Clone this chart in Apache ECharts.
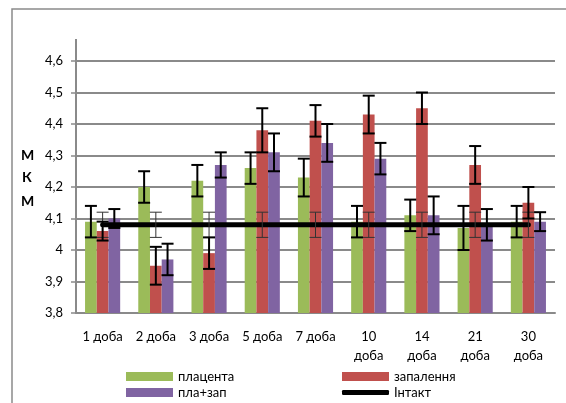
<!DOCTYPE html>
<html>
<head>
<meta charset="utf-8">
<script src="https://cdn.jsdelivr.net/npm/echarts@6/dist/echarts.min.js"></script>
<style>html,body{margin:0;padding:0;background:#fff}#c{width:566px;height:403px}</style>
</head>
<body>
<div id="c"></div>
<script>
const categories = ['1 доба','2 доба','3 доба','5 доба','7 доба','10 доба','14 доба','21 доба','30 доба'];
const placenta = [4.09,4.20,4.22,4.26,4.23,4.09,4.11,4.07,4.09];
const placentaErr = [0.05,0.05,0.05,0.05,0.06,0.05,0.05,0.07,0.05];
const inflammation = [4.06,3.95,3.99,4.38,4.41,4.43,4.45,4.27,4.15];
const inflammationErr = [0.03,0.06,0.05,0.07,0.05,0.06,0.05,0.06,0.05];
const plaZap = [4.10,3.97,4.27,4.31,4.34,4.29,4.11,4.08,4.09];
const plaZapErr = [0.03,0.05,0.04,0.06,0.06,0.05,0.06,0.05,0.03];
const intact = [4.08,4.08,4.08,4.08,4.08,4.08,4.08,4.08,4.08];
const intactErr = [0.04,0.04,0.04,0.04,0.04,0.04,0.04,0.04,0.04];
const yTicks = [3.8,3.9,4.0,4.1,4.2,4.3,4.4,4.5,4.6];

const FONT = 'Lato';
const BAR_RATIO = 0.22;
const chart = echarts.init(document.getElementById('c'), null, {renderer:'canvas'});

function errRender(offsetIdx, width, color, cap) {
  return function(params, api) {
    const i = api.value(0), v = api.value(1), e = api.value(2);
    const band = api.size([1, 0])[0];
    const x = api.coord([i, v])[0] + offsetIdx * band * BAR_RATIO;
    const yt = api.coord([i, v + e])[1];
    const yb = api.coord([i, v - e])[1];
    const st = {stroke: color, lineWidth: width};
    return {type:'group', children:[
      {type:'line', shape:{x1:x,y1:yt,x2:x,y2:yb}, style:st},
      {type:'line', shape:{x1:x-cap,y1:yt,x2:x+cap,y2:yt}, style:st},
      {type:'line', shape:{x1:x-cap,y1:yb,x2:x+cap,y2:yb}, style:st}
    ]};
  };
}
function errData(vals, errs){ return vals.map((v,i)=>[i, v, errs[i]]); }

const legendBase = {padding:0, itemGap:0, textStyle:{fontFamily:FONT, fontSize:13, color:'#000'}, itemWidth:47, itemHeight:9, icon:'rect'};

chart.setOption({
  animation:false,
  textStyle:{fontFamily:FONT},
  grid:{left:76, right:11, top:61, bottom:90},
  legend:[
    Object.assign({}, legendBase, {data:['плацента'], left:126, top:370}),
    Object.assign({}, legendBase, {data:['запалення'], left:342, top:370}),
    Object.assign({}, legendBase, {data:['пла+зап'], left:126, top:386}),
    Object.assign({}, legendBase, {data:['Інтакт'], left:342, top:386, itemHeight:5, icon:'roundRect'})
  ],
  xAxis:{
    type:'category', data:categories,
    axisLine:{lineStyle:{color:'#8a8a8a', width:2}},
    axisTick:{length:4, lineStyle:{color:'#8a8a8a', width:1.5}},
    axisLabel:{color:'#000', fontSize:13, fontFamily:FONT, margin:14, lineHeight:19, interval:0,
      formatter: s => s.length > 6 ? s.replace(' ', '\n') : s}
  },
  yAxis:{
    type:'value', min:3.8, max:4.6, interval:0.1,
    axisLine:{show:true, lineStyle:{color:'#8a8a8a', width:2}},
    axisTick:{show:true, length:5, lineStyle:{color:'#8a8a8a', width:1.5}},
    splitLine:{lineStyle:{color:'#8a8a8a', width:2}},
    axisLabel:{color:'#000', fontSize:13, fontFamily:FONT, margin:13,
      formatter: v => { const s = (Math.round(v*10)/10).toString(); return s.replace('.', ','); }}
  },
  series:[
    {name:'плацента', type:'bar', data:placenta, barWidth:(BAR_RATIO*100)+'%', barGap:'0%', itemStyle:{color:'#9BBB59'}, z:2},
    {name:'запалення', type:'bar', data:inflammation, barWidth:(BAR_RATIO*100)+'%', barGap:'0%', itemStyle:{color:'#C0504D'}, z:2},
    {name:'пла+зап', type:'bar', data:plaZap, barWidth:(BAR_RATIO*100)+'%', barGap:'0%', itemStyle:{color:'#8064A2'}, z:2},
    {name:'Інтакт', type:'line', data:intact, symbol:'none', lineStyle:{color:'#000', width:5, cap:'round'}, itemStyle:{color:'#000'}, z:4},
    {type:'custom', renderItem:errRender(0, 1, '#333', 6), data:errData(intact, intactErr), encode:{x:0,y:1}, z:5, silent:true},
    {type:'custom', renderItem:errRender(-1, 2, '#000', 6), data:errData(placenta, placentaErr), encode:{x:0,y:1}, z:6, silent:true},
    {type:'custom', renderItem:errRender(0, 2, '#000', 6), data:errData(inflammation, inflammationErr), encode:{x:0,y:1}, z:6, silent:true},
    {type:'custom', renderItem:errRender(1, 2, '#000', 6), data:errData(plaZap, plaZapErr), encode:{x:0,y:1}, z:6, silent:true}
  ]
});

const topPt = chart.convertToPixel({gridIndex:0}, [0, 4.6]);
chart.setOption({
  graphic:[
    {type:'rect', shape:{x:12, y:9, width:700, height:500}, style:{fill:'none', stroke:'#8a8a8a', lineWidth:1.5}, silent:true},
    {type:'line', shape:{x1:76, y1:39, x2:76, y2:topPt[1]}, style:{stroke:'#8a8a8a', lineWidth:2}, silent:true},
    {type:'text', left:21, top:148, style:{text:'М', font:'bold 14px ' + FONT, fill:'#000'}},
    {type:'text', left:22, top:170, style:{text:'К', font:'bold 14px ' + FONT, fill:'#000'}},
    {type:'text', left:21, top:194, style:{text:'М', font:'bold 14px ' + FONT, fill:'#000'}}
  ]
});
</script>
</body>
</html>
